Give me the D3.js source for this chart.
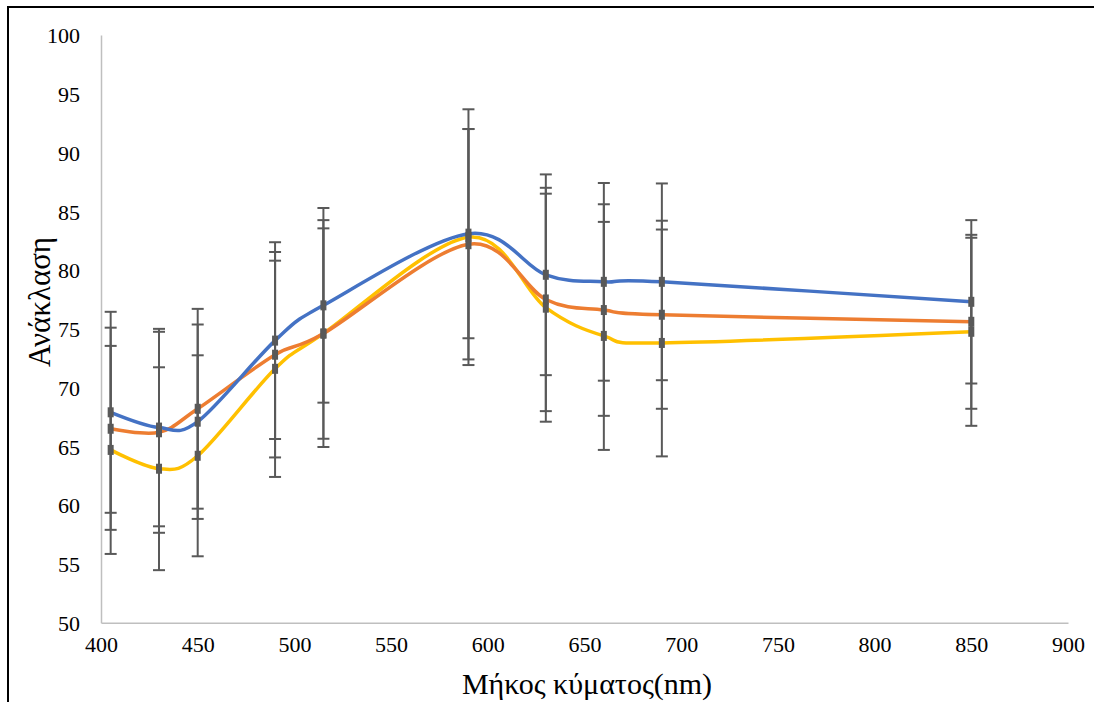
<!DOCTYPE html>
<html>
<head>
<meta charset="utf-8">
<script src="https://cdn.jsdelivr.net/npm/d3@7"></script>
<style>
  html, body { margin: 0; padding: 0; background: #fff; }
  svg { display: block; }
  text { font-family: "Liberation Serif", "Times New Roman", serif; fill: #000; }
</style>
</head>
<body>
<svg id="chart" width="1094" height="702"></svg>
<script>
// Wavelengths (nm) of the measurement points
const wavelengths = [405, 430, 450, 490, 515, 590, 630, 660, 690, 850];

// Mean reflectance per series
const seriesBlue   = [67.9, 66.6, 67.1, 74.0, 77.0, 83.1, 79.6, 79.0, 79.0, 77.3];
const seriesOrange = [66.5, 66.2, 68.2, 72.8, 74.6, 82.2, 77.5, 76.6, 76.2, 75.6];
const seriesYellow = [64.7, 63.1, 64.2, 71.6, 74.6, 82.8, 76.8, 74.4, 73.8, 74.75];

// Error half-widths per series
const errBlue   = [8.55, 8.4, 8.27, 8.37, 8.28, 8.9, 8.54, 8.41, 8.37, 6.95];
const errOrange = [8.6, 8.55, 8.5, 8.74, 9.65, 9.8, 9.5, 9.0, 8.0, 7.4];
const errYellow = [8.85, 8.63, 8.55, 9.2, 8.95, 10.88, 9.7, 9.7, 9.65, 8.0];

// Axis ticks and titles
const xTicks = [400, 450, 500, 550, 600, 650, 700, 750, 800, 850, 900];
const yTicks = [50, 55, 60, 65, 70, 75, 80, 85, 90, 95, 100];
const xTitle = "Μήκος κύματος(nm)";
const yTitle = "Ανάκλαση";

const svg = d3.select("#chart");

// Outer frame
svg.append("rect")
  .attr("x", 8).attr("y", 7)
  .attr("width", 1200).attr("height", 800)
  .attr("fill", "none").attr("stroke", "#000").attr("stroke-width", 2);

const plot = { left: 101, right: 1068, top: 35, bottom: 622.7 };

const x = d3.scaleLinear().domain([400, 900]).range([plot.left, plot.right]);
const y = d3.scaleLinear().domain([50, 100]).range([plot.bottom, plot.top]);

// Axes (lines only, no tick marks)
const xAxis = d3.axisBottom(x).tickValues(xTicks).tickSize(0).tickPadding(0);
const yAxis = d3.axisLeft(y).tickValues(yTicks).tickSize(0).tickPadding(0);

const gx = svg.append("g").attr("transform", `translate(0,${plot.bottom})`).call(xAxis);
gx.select(".domain").attr("stroke", "#bfbfbf").attr("stroke-width", 1.5);
gx.selectAll(".tick text")
  .attr("y", 29).attr("dy", "0")
  .style("font-size", "22px").style("font-family", "Liberation Serif").attr("fill", "#000");

const gy = svg.append("g").attr("transform", `translate(${plot.left},0)`).call(yAxis);
gy.select(".domain").attr("stroke", "#bfbfbf").attr("stroke-width", 1.5);
gy.selectAll(".tick text")
  .attr("x", -21).attr("dy", "0.35em")
  .style("font-size", "22px").style("font-family", "Liberation Serif").attr("fill", "#000");

// Axis titles
svg.append("text")
  .attr("x", 587).attr("y", 694)
  .attr("text-anchor", "middle")
  .style("font-size", "30px")
  .text(xTitle);

svg.append("text")
  .attr("transform", "translate(50,302) rotate(-90)")
  .attr("text-anchor", "middle")
  .style("font-size", "31px")
  .text(yTitle);

// Series
const series = [
  { values: seriesBlue,   errs: errBlue,   color: "#4472C4" },
  { values: seriesOrange, errs: errOrange, color: "#ED7D31" },
  { values: seriesYellow, errs: errYellow, color: "#FFC000" }
];

const line = d3.line()
  .x(d => x(d.wl))
  .y(d => y(d.v))
  .curve(d3.curveCardinal.tension(0));

// Draw order: yellow, orange, blue so blue sits on top
[2, 1, 0].forEach(i => {
  const s = series[i];
  const pts = wavelengths.map((wl, j) => ({ wl, v: s.values[j] }));
  svg.append("path")
    .datum(pts)
    .attr("d", line)
    .attr("fill", "none")
    .attr("stroke", s.color)
    .attr("stroke-width", 3.5)
    .attr("stroke-linecap", "round");
});

// Error bars with caps and point markers
const barColor = "#595959";
const capHalf = 6;
series.forEach(s => {
  const g = svg.append("g");
  wavelengths.forEach((wl, j) => {
    const cx = x(wl);
    const hi = y(s.values[j] + s.errs[j]);
    const lo = y(s.values[j] - s.errs[j]);
    g.append("line")
      .attr("x1", cx).attr("x2", cx).attr("y1", hi).attr("y2", lo)
      .attr("stroke", barColor).attr("stroke-width", 2);
    [hi, lo].forEach(yy => {
      g.append("line")
        .attr("x1", cx - capHalf).attr("x2", cx + capHalf)
        .attr("y1", yy).attr("y2", yy)
        .attr("stroke", barColor).attr("stroke-width", 2);
    });
    g.append("rect")
      .attr("x", cx - 3).attr("y", y(s.values[j]) - 5)
      .attr("width", 6).attr("height", 10)
      .attr("fill", barColor);
  });
});
</script>
</body>
</html>
